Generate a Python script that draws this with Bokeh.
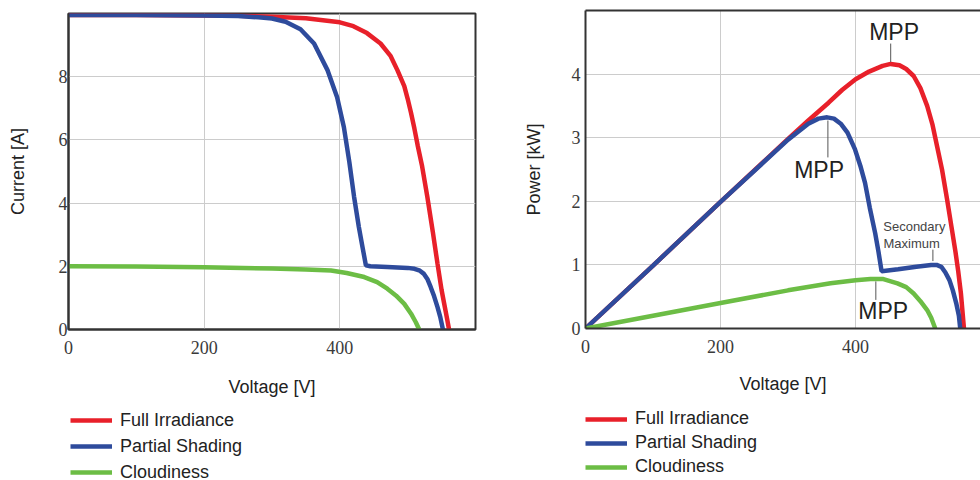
from bokeh.plotting import figure
from bokeh.models import Legend, LegendItem, LinearAxis, FixedTicker, Range1d
from bokeh.layouts import row, column
from bokeh.embed import file_html
from bokeh.resources import INLINE
from bokeh.core.properties import value

# ---------------- data ----------------
SERIES = ["Full Irradiance", "Partial Shading", "Cloudiness"]

# I-V curves: voltage [V] -> current [A]
IV_FULL_V = [0, 100, 200, 250, 300, 350, 400, 420, 440, 460, 475, 485, 495, 500, 505, 510, 515, 521, 529, 537, 544, 550, 554, 558, 561]
IV_FULL_I = [9.95, 9.95, 9.94, 9.93, 9.9, 9.85, 9.72, 9.6, 9.38, 9.05, 8.65, 8.2, 7.7, 7.3, 6.85, 6.35, 5.8, 5.2, 4.2, 3.1, 2.08, 1.25, 0.8, 0.35, 0.0]

IV_SHADE_V = [0, 100, 200, 250, 280, 300, 320, 342, 362, 382, 396, 406, 414, 421, 428, 433.5, 438.4, 445, 470, 500, 510, 518, 524, 529, 534, 539, 544, 548, 552]
IV_SHADE_I = [9.95, 9.95, 9.94, 9.92, 9.88, 9.84, 9.74, 9.5, 9.05, 8.2, 7.35, 6.4, 5.3, 4.2, 3.25, 2.6, 2.03, 2.0, 1.98, 1.95, 1.92, 1.86, 1.76, 1.6, 1.34, 1.05, 0.71, 0.4, 0.0]

IV_CLOUD_V = [0, 100, 200, 300, 350, 387, 410, 436, 455, 470, 483, 495, 505, 512, 517]
IV_CLOUD_I = [2.0, 1.99, 1.97, 1.93, 1.9, 1.87, 1.79, 1.66, 1.5, 1.29, 1.07, 0.81, 0.5, 0.23, 0.0]

# P-V curves: voltage [V] -> power [kW]
PV_FULL_V = [0, 100, 200, 300, 330, 360, 380, 400, 420, 440, 452, 465, 475, 486, 496, 506, 514, 521, 528, 535.5, 542, 548, 552, 556, 560.5]
PV_FULL_P = [0, 0.99, 1.99, 2.98, 3.27, 3.55, 3.75, 3.92, 4.04, 4.13, 4.16, 4.14, 4.08, 3.97, 3.78, 3.5, 3.2, 2.85, 2.5, 2.03, 1.6, 1.2, 0.9, 0.55, 0.0]

PV_SHADE_V = [0, 100, 200, 300, 330, 345, 358, 368, 378, 388, 399, 407, 414, 421, 429, 434, 438.5, 463, 490, 512, 520, 527, 533, 539, 544, 549, 553, 555]
PV_SHADE_P = [0, 0.99, 1.99, 2.97, 3.22, 3.3, 3.32, 3.3, 3.22, 3.08, 2.82, 2.56, 2.29, 1.9, 1.5, 1.2, 0.9, 0.93, 0.97, 1.0, 1.0, 0.97, 0.88, 0.76, 0.6, 0.4, 0.2, 0.0]

PV_CLOUD_V = [0, 100, 200, 300, 363, 400, 422, 440, 462, 475, 486, 496, 506, 512, 518]
PV_CLOUD_P = [0, 0.2, 0.4, 0.6, 0.71, 0.76, 0.78, 0.78, 0.71, 0.65, 0.55, 0.43, 0.29, 0.17, 0.0]

# annotations on the power plot
MPP_LABELS = ["MPP", "MPP", "MPP"]
MPP_LABEL_V = [457, 346, 441]
MPP_LABEL_P = [4.66, 2.50, 0.28]
LEADER_V = [452, 359, 430, 514.5]
LEADER_P_TOP = [4.48, 3.27, 0.74, 1.24]
LEADER_P_BOTTOM = [4.19, 2.69, 0.45, 1.06]
SECONDARY_LINES = ["Secondary", "Maximum"]
SECONDARY_V = [487, 483]
SECONDARY_P = [1.61, 1.33]

X_TICKS = [0, 200, 400]
I_TICKS = [0, 2, 4, 6, 8]
P_TICKS = [0, 1, 2, 3, 4]

# ---------------- style ----------------
COLORS = ["#e8202a", "#2e4b9c", "#6cbd45"]
LW = 4.5
SANS = "Liberation Sans"
SERIF = "Liberation Serif"
DARK = "#333333"


def style_axis(ax, ticks, standoff, label_standoff):
    ax.ticker = FixedTicker(ticks=ticks)
    ax.major_tick_line_color = None
    ax.minor_tick_line_color = None
    ax.major_tick_out = 0
    ax.major_tick_in = 0
    ax.axis_line_color = DARK
    ax.axis_line_width = 2
    ax.major_label_text_font = SERIF
    ax.major_label_text_font_size = "18px"
    ax.major_label_text_color = "#3a3a3a"
    ax.major_label_standoff = standoff
    ax.axis_label_text_font = SANS
    ax.axis_label_text_font_size = "18px"
    ax.axis_label_text_font_style = "normal"
    ax.axis_label_text_color = "#222222"
    ax.axis_label_standoff = label_standoff


def legend_figure(width, series_xy, loc, row_h, gap):
    lf = figure(width=width, height=80, x_range=Range1d(0, 1), y_range=Range1d(0, 1),
                x_axis_location=None, y_axis_location=None,
                output_backend="svg", toolbar_location=None,
                min_border_left=0, min_border_right=0, min_border_top=0, min_border_bottom=0)
    lf.outline_line_color = None
    lf.grid.visible = False
    rs = [lf.line(x, y, line_color=c, line_width=LW, visible=False)
          for (x, y), c in zip(series_xy, COLORS)]
    leg = Legend(
        items=[LegendItem(label=s, renderers=[r]) for s, r in zip(SERIES, rs)],
        location=loc, orientation="vertical",
        glyph_width=42, glyph_height=row_h, label_height=row_h, label_standoff=8, spacing=gap,
        padding=0, margin=0,
        label_text_font=SANS, label_text_font_size="18px", label_text_color="#222222",
        background_fill_alpha=0, border_line_alpha=0,
    )
    lf.add_layout(leg)
    return lf


# ---------------- left: I-V ----------------
p1 = figure(frame_width=407, frame_height=316, x_range=Range1d(0, 600), y_range=Range1d(0, 10),
            output_backend="svg", toolbar_location=None,
            min_border_left=68, min_border_right=10, min_border_top=13, min_border_bottom=71,
            x_axis_label="Voltage [V]", y_axis_label="Current [A]")
style_axis(p1.xaxis[0], X_TICKS, 11, 20)
style_axis(p1.yaxis[0], I_TICKS, 1, 28)
p1.outline_line_color = DARK
p1.outline_line_width = 2
p1.grid.grid_line_color = "#cccccc"
p1.grid.grid_line_width = 1

p1.line(IV_FULL_V, IV_FULL_I, line_color=COLORS[0], line_width=LW)
p1.line(IV_SHADE_V, IV_SHADE_I, line_color=COLORS[1], line_width=LW)
p1.line(IV_CLOUD_V, IV_CLOUD_I, line_color=COLORS[2], line_width=LW)

l1 = legend_figure(485, [(IV_FULL_V, IV_FULL_I), (IV_SHADE_V, IV_SHADE_I), (IV_CLOUD_V, IV_CLOUD_I)],
                   (2, -3), 22, 4)

# ---------------- right: P-V ----------------
p2 = figure(frame_width=395, frame_height=318, x_range=Range1d(0, 585), y_range=Range1d(0, 5),
            output_backend="svg", toolbar_location=None,
            min_border_left=100, min_border_right=0, min_border_top=10, min_border_bottom=72,
            x_axis_label="Voltage [V]", y_axis_label="Power [kW]")
style_axis(p2.xaxis[0], X_TICKS, 11, 18)
style_axis(p2.yaxis[0], P_TICKS, 5, 25)
p2.outline_line_color = None
top_axis = LinearAxis(ticker=FixedTicker(ticks=[]), axis_line_color=DARK, axis_line_width=2,
                      major_tick_line_color=None, minor_tick_line_color=None,
                      major_tick_out=0, major_tick_in=0, major_label_standoff=0)
p2.add_layout(top_axis, "above")
p2.grid.grid_line_color = "#cccccc"
p2.grid.grid_line_width = 1

p2.line(PV_FULL_V, PV_FULL_P, line_color=COLORS[0], line_width=LW)
p2.line(PV_SHADE_V, PV_SHADE_P, line_color=COLORS[1], line_width=LW)
p2.line(PV_CLOUD_V, PV_CLOUD_P, line_color=COLORS[2], line_width=LW)

p2.segment(x0=LEADER_V, y0=LEADER_P_TOP, x1=LEADER_V, y1=LEADER_P_BOTTOM,
           line_color="#555555", line_width=1)
p2.text(x=MPP_LABEL_V, y=MPP_LABEL_P, text=MPP_LABELS, text_align="center", text_baseline="middle",
        text_font=value(SANS), text_font_size="23px", text_color="#222222")
p2.text(x=SECONDARY_V, y=SECONDARY_P, text=SECONDARY_LINES, text_align="center", text_baseline="middle",
        text_font=value(SANS), text_font_size="13px", text_color="#444444")

l2 = legend_figure(495, [(PV_FULL_V, PV_FULL_P), (PV_SHADE_V, PV_SHADE_P), (PV_CLOUD_V, PV_CLOUD_P)],
                   (0, 3), 20, 3)

layout = row(column(p1, l1), column(p2, l2))
open("out.html", "w").write(file_html(layout, INLINE))
